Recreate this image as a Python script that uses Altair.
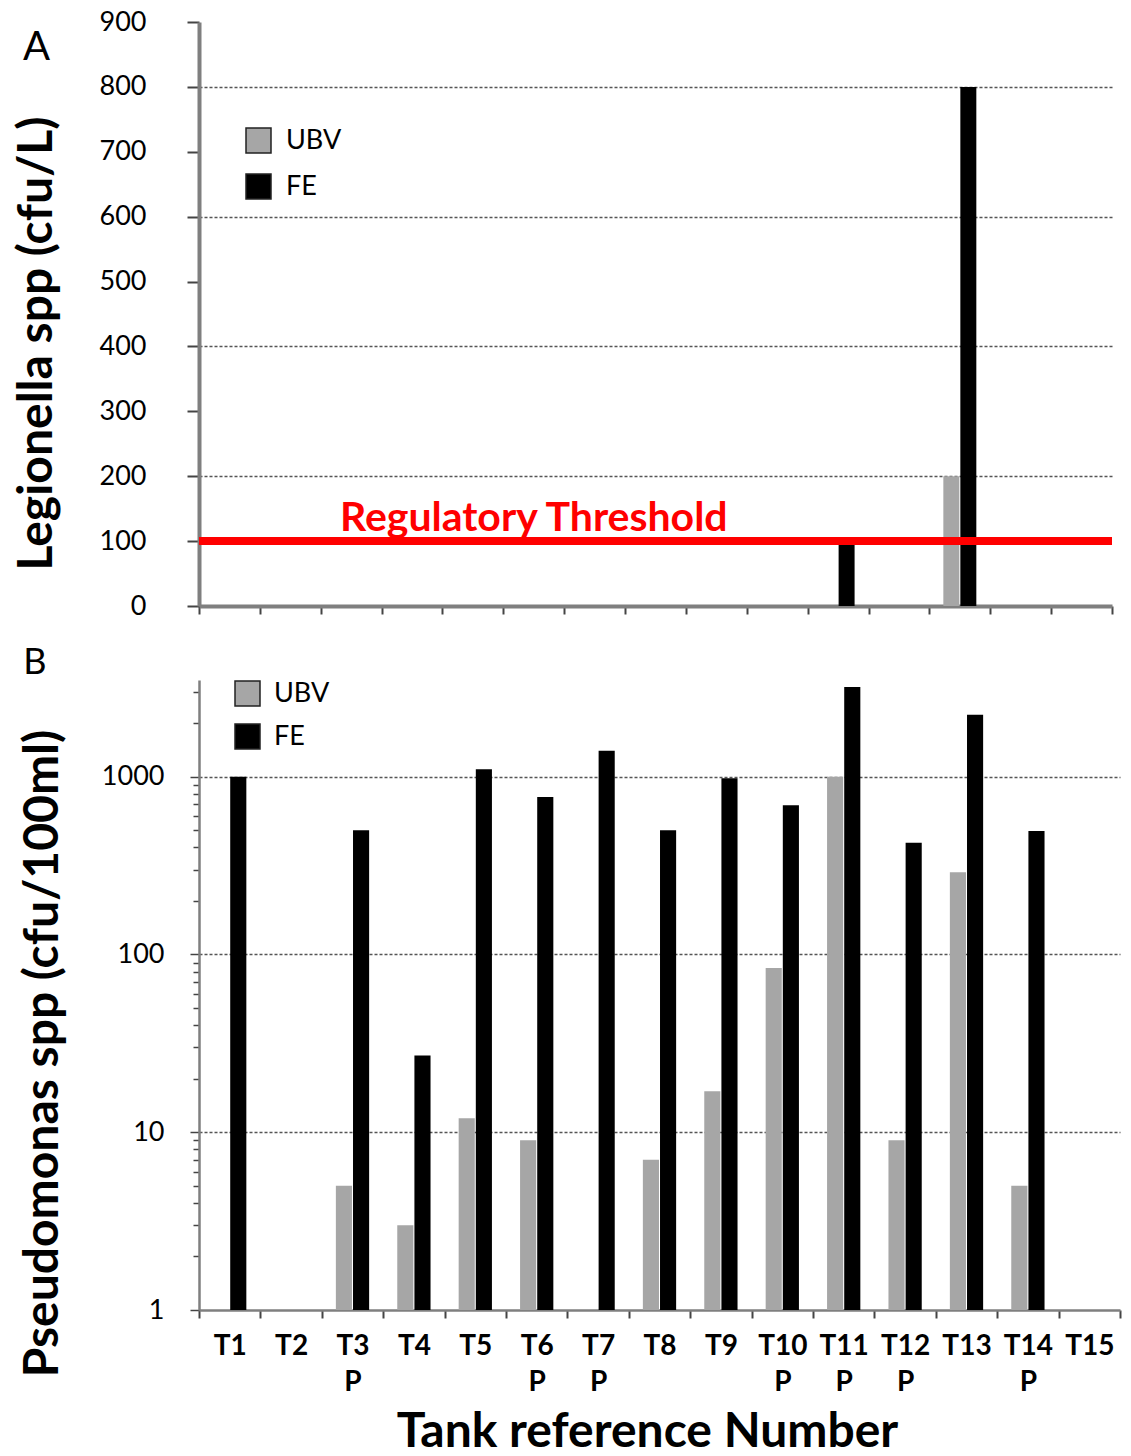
import altair as alt
import pandas as pd

# ---------------- data ----------------
tanks = ["T1", "T2", "T3", "T4", "T5", "T6", "T7", "T8", "T9", "T10",
         "T11", "T12", "T13", "T14", "T15"]
p_tanks = ["T3", "T6", "T7", "T10", "T11", "T12", "T14"]
series = ["UBV", "FE"]
series_colors = ["#a6a6a6", "#000000"]

legionella_ubv = [None, None, None, None, None, None, None, None, None, None, None, None, 200, None, None]
legionella_fe = [None, None, None, None, None, None, None, None, None, None, 100, None, 800, None, None]

pseudo_ubv = [None, None, 5, 3, 12, 9, None, 7, 17, 84, 1000, 9, 290, 5, None]
pseudo_fe = [1000, None, 500, 27, 1100, 770, 1400, 500, 980, 690, 3200, 425, 2230, 495, None]
pseudo_base = 1

threshold = [100]
threshold_label = ["Regulatory Threshold"]
threshold_label_tank = ["T6"]

legion_ticks = [0, 100, 200, 300, 400, 500, 600, 700, 800, 900]
pseudo_major = [1, 10, 100, 1000]
pseudo_ticks = [1, 2, 3, 4, 5, 6, 7, 8, 9, 10, 20, 30, 40, 50, 60, 70, 80, 90,
                100, 200, 300, 400, 500, 600, 700, 800, 900, 1000, 2000, 3000]


def long_df(ubv, fe):
    rows = []
    for t, u, f in zip(tanks, ubv, fe):
        if u is not None:
            rows.append({"tank": t, "series": "UBV", "value": u})
        if f is not None:
            rows.append({"tank": t, "series": "FE", "value": f})
    return pd.DataFrame(rows)


dfA = long_df(legionella_ubv, legionella_fe)
dfB = long_df(pseudo_ubv, pseudo_fe)
dfB["base"] = pseudo_base
df_thr = pd.DataFrame({"value": threshold})
df_thr_lab = pd.DataFrame({"tank": threshold_label_tank, "value": threshold, "label": threshold_label})

FONT = "Lato"
AXIS_GRAY = "#7f7f7f"

x_scale = alt.Scale(domain=tanks, paddingInner=0, paddingOuter=0)
off_scale = alt.Scale(domain=series, paddingInner=0.06, paddingOuter=0.82)
color_scale = alt.Scale(domain=series, range=series_colors)

# ---------------- panel A ----------------
xA = alt.X("tank:N", sort=tanks, scale=x_scale,
           axis=alt.Axis(labels=False, title=None, tickBand="extent", tickSize=8,
                         tickColor="#444444", tickWidth=2, domainColor=AXIS_GRAY,
                         domainWidth=4, grid=False))
yA = alt.Y("value:Q", scale=alt.Scale(domain=[0, 900], nice=False),
           axis=alt.Axis(values=legion_ticks, title="Legionella spp (cfu/L)",
                         grid=True,
                         gridOpacity={"condition": {"test": "datum.value % 200 == 0 && datum.value > 0 && datum.value < 900", "value": 1}, "value": 0},
                         gridColor="#555555", gridDash=[3, 2], gridWidth=1.5,
                         domainColor=AXIS_GRAY, domainWidth=4,
                         tickColor="#444444", tickSize=12, tickWidth=2,
                         labelFont=FONT, labelFontSize=27, labelColor="black",
                         labelPadding=41,
                         titleFont=FONT, titleFontSize=48, titleFontWeight="bold",
                         titleColor="black", titlePadding=38, titleY=321))

barsA = alt.Chart(dfA).mark_bar().encode(
    x=xA,
    xOffset=alt.XOffset("series:N", scale=off_scale),
    y=yA,
    color=alt.Color("series:N", scale=color_scale,
                    legend=alt.Legend(title=None, orient="none", legendX=46, legendY=105,
                                      symbolType="square", symbolSize=625,
                                      symbolStrokeWidth=1.5, symbolStrokeColor="#222222",
                                      labelFont=FONT, labelFontSize=27, labelColor="black",
                                      labelOffset=14, rowPadding=15, padding=0,
                                      direction="vertical")),
)

ruleA = alt.Chart(df_thr).mark_rule(color="#ff0000", strokeWidth=8).encode(
    y=alt.Y("value:Q"))

textA = alt.Chart(df_thr_lab).mark_text(color="#ff0000", font=FONT, fontSize=41,
                                         fontWeight="bold", baseline="alphabetic",
                                         align="center", dy=-10).encode(
    x=alt.X("tank:N", sort=tanks, scale=x_scale),
    y=alt.Y("value:Q"),
    text="label:N")

panelA = alt.layer(barsA, ruleA, textA).properties(
    width=913, height=584,
    title=alt.TitleParams("A", anchor="start", frame="bounds", font=FONT, fontSize=40,
                          fontWeight="normal", color="black", offset=0, dx=10, dy=60))

# ---------------- panel B ----------------
label_expr = ("indexof(" + str(p_tanks) + ", datum.value) >= 0 ? "
              "[datum.value, 'P'] : datum.value")
xB = alt.X("tank:N", sort=tanks, scale=x_scale,
           axis=alt.Axis(title="Tank reference Number", tickBand="extent", tickSize=8,
                         tickColor="#444444", tickWidth=2, domainColor=AXIS_GRAY,
                         domainWidth=2.5, grid=False, labelAngle=0,
                         labelExpr=label_expr, labelFont=FONT, labelFontSize=28,
                         labelFontWeight="bold", labelColor="black", labelLineHeight=36,
                         labelPadding=14,
                         titleFont=FONT, titleFontSize=48, titleFontWeight="bold",
                         titleColor="black", titlePadding=12, titleX=448))
major_test = "indexof(" + str(pseudo_major) + ", datum.value) >= 0"
yB = alt.Y("value:Q", scale=alt.Scale(type="log", domain=[1, 3500], nice=False),
           axis=alt.Axis(values=pseudo_ticks, title="Pseudomonas spp (cfu/100ml)",
                         labelExpr=major_test + " ? '' + datum.value : ''",
                         grid=True,
                         gridOpacity={"condition": {"test": "datum.value > 1 && " + major_test, "value": 1}, "value": 0},
                         gridColor="#555555", gridDash=[3, 2], gridWidth=1.5,
                         domainColor=AXIS_GRAY, domainWidth=2.5,
                         tickColor="#444444", tickWidth=1.5,
                         tickSize={"condition": {"test": major_test, "value": 9}, "value": 6},
                         labelFont=FONT, labelFontSize=27, labelColor="black",
                         labelPadding=26, labelOverlap=False,
                         titleFont=FONT, titleFontSize=48, titleFontWeight="bold",
                         titleColor="black", titlePadding=34, titleY=373))

barsB = alt.Chart(dfB).mark_bar().encode(
    x=xB,
    xOffset=alt.XOffset("series:N", scale=off_scale),
    y=yB,
    y2=alt.Y2("base:Q"),
    color=alt.Color("series:N", scale=color_scale,
                    legend=alt.Legend(title=None, orient="none", legendX=35, legendY=0,
                                      symbolType="square", symbolSize=625,
                                      symbolStrokeWidth=1.5, symbolStrokeColor="#222222",
                                      labelFont=FONT, labelFontSize=27, labelColor="black",
                                      labelOffset=13, rowPadding=12, padding=0,
                                      direction="vertical")),
)

panelB = barsB.properties(
    width=921, height=630,
    title=alt.TitleParams("B", anchor="start", frame="bounds", font=FONT, fontSize=36,
                          fontWeight="normal", color="black", offset=4, dx=4, dy=8))

chart = alt.vconcat(panelA, panelB, spacing=25).resolve_scale(
    x="independent", y="independent", color="independent", xOffset="independent"
).properties(
    padding={"left": 13, "top": 8, "right": 5, "bottom": 0},
    background="white",
).configure_view(stroke=None)

chart.save("out.html", embed_options={"renderer": "svg", "actions": False})
